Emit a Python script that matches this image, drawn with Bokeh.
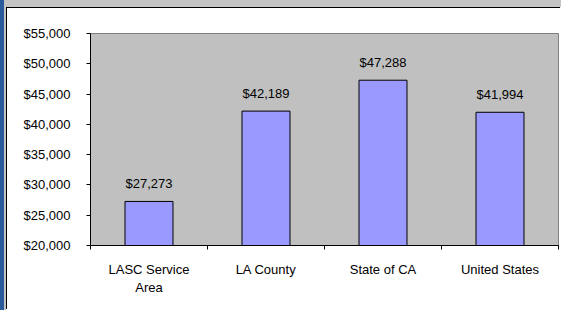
from bokeh.plotting import figure
from bokeh.layouts import column
from bokeh.models import Range1d, FixedTicker, NumeralTickFormatter, ColumnDataSource
from bokeh.core.properties import value
from bokeh.embed import file_html
from bokeh.resources import INLINE

categories = ["LASC Service\nArea", "LA County", "State of CA", "United States"]
incomes = [27273, 42189, 47288, 41994]
y_ticks = [20000, 25000, 30000, 35000, 40000, 45000, 50000, 55000]

FONT = "Liberation Sans"

xs = [i + 0.5 for i in range(len(categories))]
src = ColumnDataSource(dict(
    x=xs,
    top=incomes,
    label=["${:,}".format(v) for v in incomes],
))

p = figure(width=554, height=302, output_backend="svg", toolbar_location=None,
           x_range=Range1d(0, len(categories)), y_range=Range1d(y_ticks[0], y_ticks[-1]),
           min_border_left=83, min_border_top=25, min_border_right=3, min_border_bottom=65,
           background_fill_color="#C0C0C0", border_fill_color="white",
           styles={"border-top": "1px solid black", "border-left": "1px solid black"})
p.outline_line_color = "#808080"
p.grid.visible = False

p.vbar(x="x", top="top", bottom=y_ticks[0], width=0.41, source=src,
       fill_color="#9999FF", line_color="black", line_width=1)
p.text(x="x", y="top", text="label", source=src, text_align="center",
       text_baseline="bottom", y_offset=-10, text_font=value(FONT),
       text_font_size="13px", text_color="black")

# y axis
p.yaxis.ticker = FixedTicker(ticks=y_ticks)
p.yaxis.formatter = NumeralTickFormatter(format="$0,0")
p.yaxis.major_tick_in = 0
p.yaxis.major_tick_out = 4
p.yaxis.minor_tick_line_color = None
p.yaxis.major_label_standoff = 16
p.yaxis.axis_line_color = "black"
p.yaxis.major_tick_line_color = "black"

# x axis: labels at band centers, ticks at band boundaries
p.xaxis.ticker = FixedTicker(ticks=xs, minor_ticks=list(range(len(categories) + 1)))
p.xaxis.major_label_overrides = {x: c for x, c in zip(xs, categories)}
p.xaxis.major_tick_line_color = None
p.xaxis.minor_tick_in = 0
p.xaxis.minor_tick_out = 4
p.xaxis.minor_tick_line_color = "black"
p.xaxis.major_label_standoff = 10
p.xaxis.axis_line_color = "black"

for ax in (p.xaxis, p.yaxis):
    ax.major_label_text_font = FONT
    ax.major_label_text_font_size = "13px"
    ax.major_label_text_color = "black"

layout = column(p, width=561, height=310,
                styles={"background-color": "white", "padding-top": "7px",
                        "padding-left": "6px",
                        "box-shadow": "inset 4px 0 0 0 #2B5B9B, inset 0 7px 0 0 #C4C4C4, "
                                      "inset 6px 0 0 0 #C4C4C4"})

open("out.html", "w").write(file_html(layout, INLINE))
